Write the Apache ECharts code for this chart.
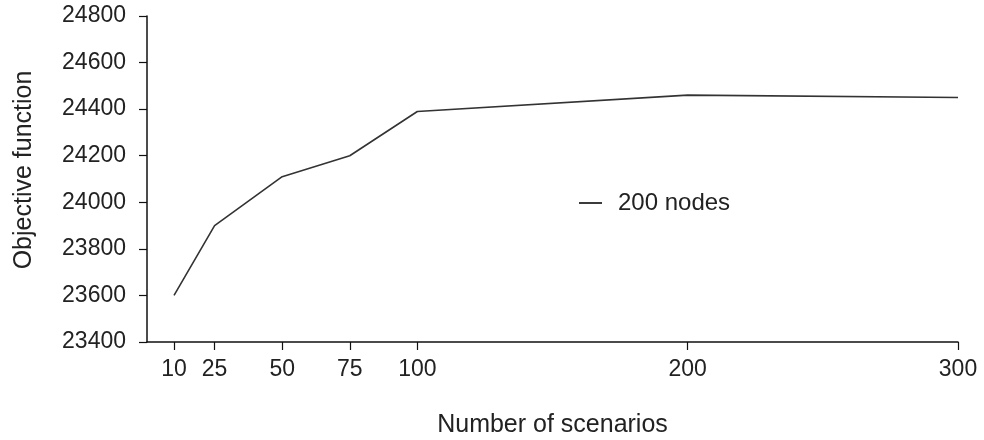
<!DOCTYPE html>
<html>
<head>
<meta charset="utf-8">
<script src="https://cdn.jsdelivr.net/npm/echarts@6/dist/echarts.min.js"></script>
<style>html,body{margin:0;padding:0;background:#fff}#c{width:984px;height:440px}</style>
</head>
<body>
<div id="c"></div>
<script>
const scenarios = [10, 25, 50, 75, 100, 200, 300];
const objective200 = [23600, 23900, 24110, 24200, 24390, 24460, 24450];
const xTicks = [10, 25, 50, 75, 100, 200, 300];
const yTicks = [23400, 23600, 23800, 24000, 24200, 24400, 24600, 24800];
const seriesName = '200 nodes';

const FONT = 'Liberation Sans';
const TXT = '#222';
const chart = echarts.init(document.getElementById('c'), null, {renderer: 'canvas'});
chart.setOption({
  animation: false,
  backgroundColor: '#fff',
  grid: {left: 147, right: 26, top: 16, bottom: 98, containLabel: false, outerBoundsMode: 'none'},
  legend: {
    data: [seriesName],
    left: 574, top: 186,
    icon: 'path://M0,0 L24,0 L24,2 L0,2 Z',
    itemWidth: 23, itemHeight: 2, itemGap: 10,
    textStyle: {fontFamily: FONT, fontSize: 24, color: TXT, padding: [0, 0, 0, 11]}
  },
  xAxis: {
    type: 'value', min: 0, max: 300,
    name: 'Number of scenarios', nameLocation: 'middle', nameGap: 71,
    nameTextStyle: {fontFamily: FONT, fontSize: 25, color: TXT},
    axisLine: {show: true, onZero: false, lineStyle: {color: '#111', width: 1.5}},
    axisTick: {show: true, length: 8, lineStyle: {color: '#111', width: 1.2}, customValues: xTicks},
    axisLabel: {fontFamily: FONT, fontSize: 23, color: TXT, margin: 16, customValues: xTicks,
      formatter: v => String(v)},
    splitLine: {show: false}
  },
  yAxis: {
    type: 'value', min: 23400, max: 24800, interval: 200,
    name: 'Objective function', nameLocation: 'middle', nameGap: 110, nameRotate: 90,
    nameTextStyle: {fontFamily: FONT, fontSize: 25, color: TXT, padding: [0, 0, 0, 18]},
    axisLine: {show: true, lineStyle: {color: '#111', width: 1.5}},
    axisTick: {show: true, length: 8, lineStyle: {color: '#111', width: 1.2}},
    axisLabel: {fontFamily: FONT, fontSize: 23, color: TXT, margin: 21, padding: [4, 0, 0, 0],
      formatter: v => String(v)},
    splitLine: {show: false}
  },
  series: [{
    name: seriesName, type: 'line',
    data: scenarios.map((x, i) => [x, objective200[i]]),
    showSymbol: false, symbol: 'none',
    lineStyle: {color: '#333', width: 1.6},
    itemStyle: {color: '#333'}
  }]
});
</script>
</body>
</html>
